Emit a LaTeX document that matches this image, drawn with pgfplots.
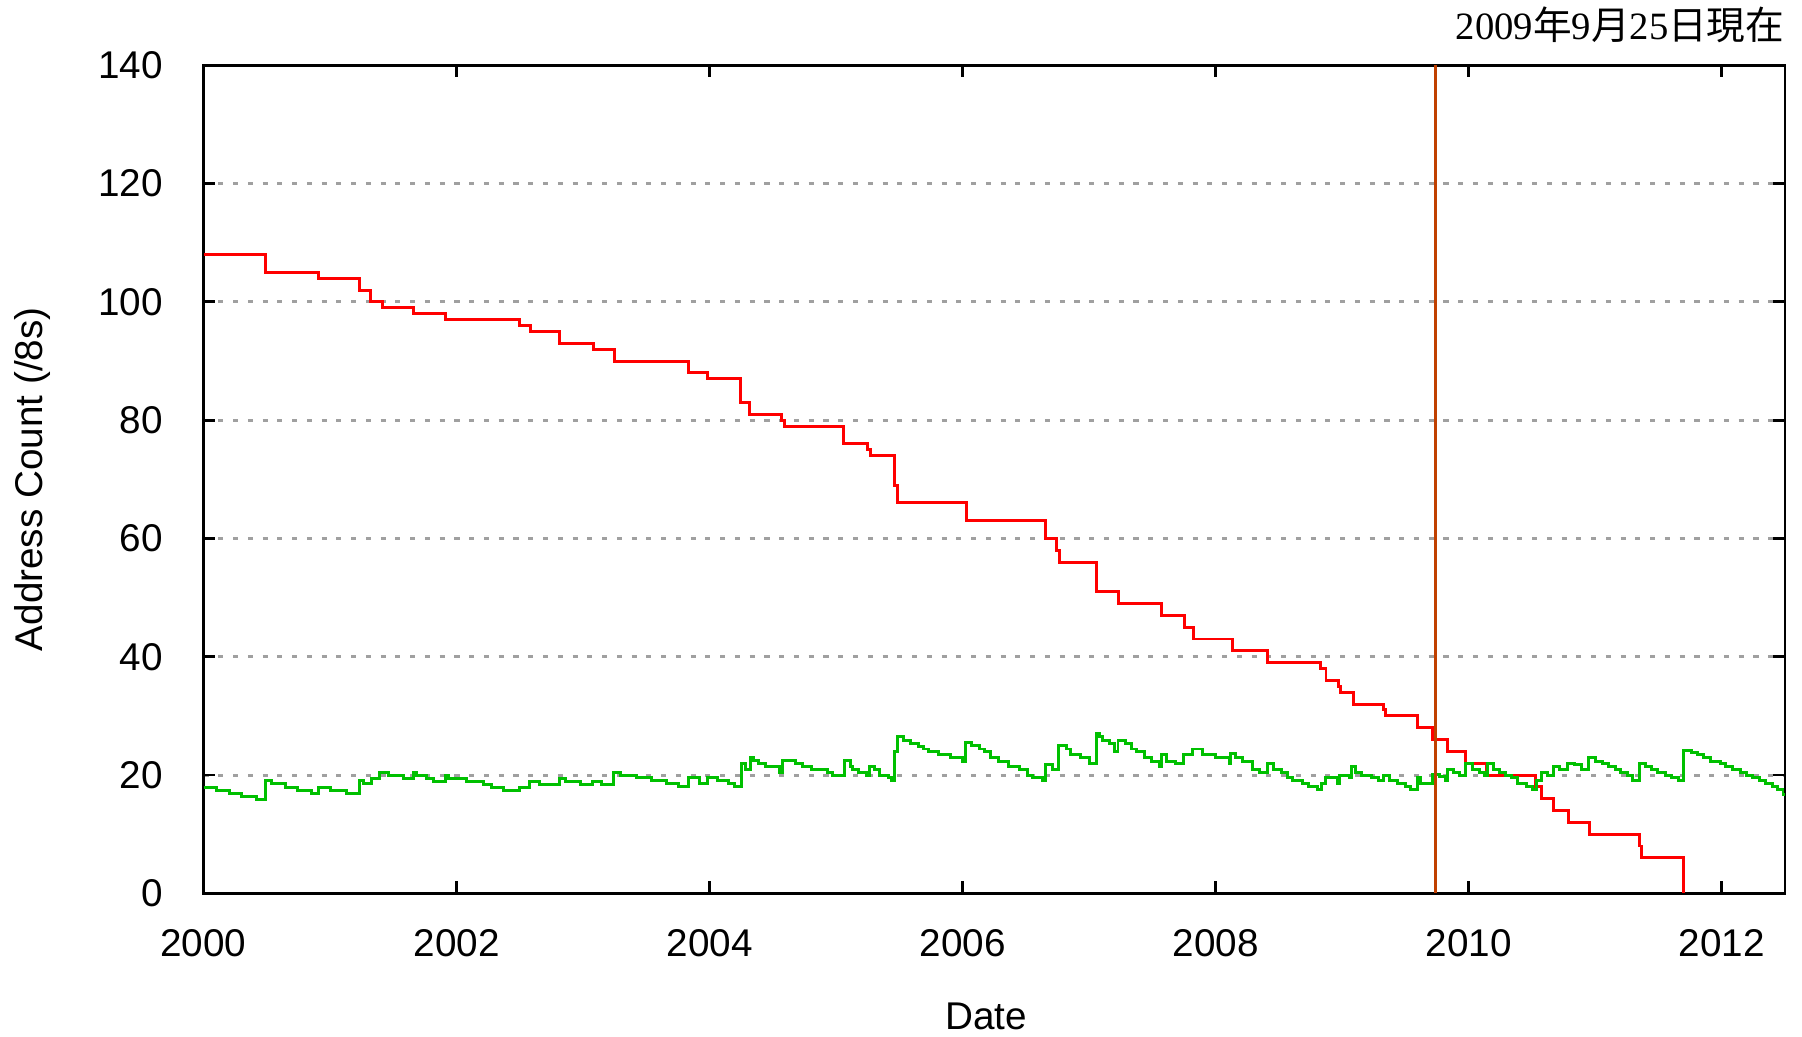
\documentclass[border=0pt]{standalone}
\usepackage{fontspec}
\setmainfont{Liberation Sans}
\newfontfamily\seriffont{Liberation Serif}
\newfontfamily\cjk{Noto Sans CJK JP}
\usepackage{pgfplots}
\pgfplotsset{compat=1.18}

\definecolor{gpred}{HTML}{FF0000}
\definecolor{gpgreen}{HTML}{00C000}
\definecolor{nowline}{HTML}{C04000}
\definecolor{gridgray}{HTML}{A0A0A0}

\begin{document}
\begin{tikzpicture}
\begin{axis}[
  name=ax,
  scale only axis,
  width=15.815cm, height=8.28cm,
  xmin=2000, xmax=2012.5,
  ymin=0, ymax=140,
  xtick={2000,2002,...,2012},
  ytick={0,20,...,140},
  minor tick num=0,
  tick align=inside,
  xtick pos=both, ytick pos=both,
  xticklabel pos=lower, yticklabel pos=left,
  major tick length=0.12cm,
  every tick/.style={black, line width=0.8pt},
  axis line style={line width=0.8pt},
  ymajorgrids,
  major grid style={gridgray, line width=0.85pt, dash pattern=on 1.45pt off 2.75pt},
  /pgf/number format/assume math mode=true,
  /pgf/number format/1000 sep={},
  tick label style={font=\fontsize{11}{13}\selectfont},
  xticklabel style={inner sep=0pt, anchor=north, yshift=-0.35cm},
  yticklabel style={inner sep=0pt, anchor=east, xshift=-0.40cm},
  xlabel={Date},
  ylabel={Address Count (/8s)},
  label style={font=\fontsize{11}{13}\selectfont},
  xlabel style={at={(axis description cs:0.495,-0.149)}, anchor=center, inner sep=0pt},
  ylabel style={at={(axis description cs:-0.1084,0.5)}, anchor=center, inner sep=0pt},
  clip mode=individual,
]
% IANA pool (red)
\addplot[const plot, gpred, line width=0.85pt] coordinates {
  (2000.000,108) (2000.491,105) (2000.907,104) (2001.231,102) (2001.323,100)
  (2001.413,99) (2001.657,98) (2001.910,97) (2002.495,96) (2002.584,95)
  (2002.816,93) (2003.079,92) (2003.245,90) (2003.830,88) (2003.987,87)
  (2004.246,83) (2004.317,81) (2004.572,80) (2004.593,79) (2005.059,76)
  (2005.251,75) (2005.273,74) (2005.465,69) (2005.486,66) (2006.028,63)
  (2006.655,60) (2006.744,58) (2006.765,56) (2007.055,51) (2007.234,49)
  (2007.569,47) (2007.755,45) (2007.824,43) (2008.130,41) (2008.406,39)
  (2008.827,38) (2008.872,36) (2008.972,35) (2008.985,34) (2009.088,32)
  (2009.325,31) (2009.341,30) (2009.599,28) (2009.714,26) (2009.833,24)
  (2009.972,22) (2010.141,20) (2010.531,18) (2010.578,16) (2010.667,14)
  (2010.788,12) (2010.952,10) (2011.347,8) (2011.368,6) (2011.694,0)
};
% RIR pool (green)
\addplot[const plot, gpgreen, line width=0.85pt] coordinates {
  (2000.000,17.9) (2000.104,17.4) (2000.204,16.9) (2000.299,16.4) (2000.415,15.9)
  (2000.488,19.0) (2000.536,18.5) (2000.646,17.9) (2000.741,17.4) (2000.857,16.9)
  (2000.910,17.9) (2001.004,17.4) (2001.131,16.9) (2001.231,19.0) (2001.263,18.5)
  (2001.326,19.4) (2001.394,20.5) (2001.463,20.0) (2001.584,19.4) (2001.657,20.5)
  (2001.680,20.0) (2001.763,19.4) (2001.815,18.9) (2001.910,20.0) (2001.935,19.4)
  (2002.079,18.9) (2002.216,18.4) (2002.279,17.9) (2002.374,17.4) (2002.500,17.9)
  (2002.579,18.9) (2002.658,18.4) (2002.816,19.4) (2002.863,18.9) (2002.979,18.4)
  (2003.074,18.9) (2003.148,18.4) (2003.243,20.5) (2003.295,20.0) (2003.422,19.5)
  (2003.543,19.0) (2003.659,18.5) (2003.753,18.0) (2003.832,19.5) (2003.922,18.5)
  (2003.980,19.5) (2004.059,19.0) (2004.148,18.5) (2004.196,18.0) (2004.254,22.0)
  (2004.280,21.0) (2004.322,22.9) (2004.350,22.4) (2004.385,22.0) (2004.438,21.5)
  (2004.554,20.5) (2004.580,22.4) (2004.680,22.0) (2004.738,21.5) (2004.807,21.0)
  (2004.933,20.5) (2004.970,20.0) (2005.065,22.4) (2005.112,21.5) (2005.130,21.0)
  (2005.180,20.5) (2005.244,20.0) (2005.265,21.5) (2005.307,21.0) (2005.344,20.0)
  (2005.412,19.5) (2005.438,19.0) (2005.460,23.9) (2005.486,26.5) (2005.533,25.9)
  (2005.591,25.4) (2005.649,24.9) (2005.691,24.4) (2005.733,23.9) (2005.807,23.4)
  (2005.902,22.9) (2006.002,22.3) (2006.023,25.5) (2006.070,25.0) (2006.134,24.4)
  (2006.176,23.9) (2006.218,22.9) (2006.281,22.3) (2006.360,21.5) (2006.449,21.0)
  (2006.512,20.0) (2006.554,19.5) (2006.628,19.0) (2006.654,21.7) (2006.712,21.0)
  (2006.754,25.0) (2006.818,24.4) (2006.849,23.4) (2006.933,22.9) (2007.002,22.0)
  (2007.055,27.0) (2007.080,26.5) (2007.107,25.9) (2007.160,25.4) (2007.202,23.9)
  (2007.228,25.9) (2007.286,25.4) (2007.334,24.4) (2007.371,23.9) (2007.439,22.9)
  (2007.492,22.3) (2007.555,21.5) (2007.571,23.4) (2007.608,22.3) (2007.686,21.9)
  (2007.744,23.4) (2007.813,24.4) (2007.892,23.4) (2008.002,22.9) (2008.108,21.9)
  (2008.118,23.6) (2008.160,22.9) (2008.213,22.3) (2008.292,21.0) (2008.345,20.5)
  (2008.408,22.0) (2008.455,21.0) (2008.519,20.5) (2008.571,19.5) (2008.608,19.0)
  (2008.687,18.5) (2008.734,18.0) (2008.808,17.5) (2008.834,18.5) (2008.871,19.5)
  (2008.966,18.5) (2008.977,20.0) (2009.056,19.5) (2009.071,21.5) (2009.108,20.5)
  (2009.150,20.0) (2009.235,19.5) (2009.287,19.0) (2009.324,20.0) (2009.372,19.0)
  (2009.440,18.5) (2009.498,18.0) (2009.540,17.5) (2009.593,19.5) (2009.620,18.5)
  (2009.714,20.1) (2009.767,19.7) (2009.820,19.0) (2009.835,21.0) (2009.883,20.5)
  (2009.925,20.0) (2009.972,21.9) (2010.030,21.0) (2010.083,20.5) (2010.125,20.0)
  (2010.151,21.9) (2010.194,21.0) (2010.241,20.5) (2010.288,20.0) (2010.341,19.5)
  (2010.388,18.5) (2010.457,18.0) (2010.504,17.5) (2010.536,19.0) (2010.578,20.5)
  (2010.620,20.0) (2010.667,21.4) (2010.720,20.9) (2010.783,22.0) (2010.836,21.8)
  (2010.889,21.0) (2010.947,22.9) (2011.004,22.3) (2011.057,22.0) (2011.105,21.5)
  (2011.157,21.0) (2011.199,20.5) (2011.252,20.0) (2011.294,19.0) (2011.347,22.0)
  (2011.399,21.5) (2011.442,21.0) (2011.489,20.5) (2011.557,20.0) (2011.605,19.5)
  (2011.657,19.0) (2011.700,24.1) (2011.758,23.8) (2011.805,23.4) (2011.858,22.9)
  (2011.910,22.3) (2011.989,22.0) (2012.031,21.5) (2012.084,21.0) (2012.147,20.5)
  (2012.195,20.0) (2012.242,19.5) (2012.295,19.0) (2012.347,18.5) (2012.400,18.0)
  (2012.442,17.5) (2012.484,16.7) (2012.500,16.7)
};
% as of 2009-09-25
\addplot[nowline, line width=0.85pt] coordinates {(2009.735,0) (2009.735,140)};
\end{axis}
\node[anchor=east, inner sep=0pt, font=\fontsize{11}{13}\selectfont]
  at ([yshift=0.408cm]ax.north east)
  {{\seriffont 2009}{\cjk 年}{\seriffont 9}{\cjk 月}{\seriffont 25}{\cjk 日現在}};
\pgfresetboundingbox
\path[use as bounding box] (-2.035cm,-1.427cm) rectangle (15.985cm,8.933cm);
\end{tikzpicture}
\end{document}
